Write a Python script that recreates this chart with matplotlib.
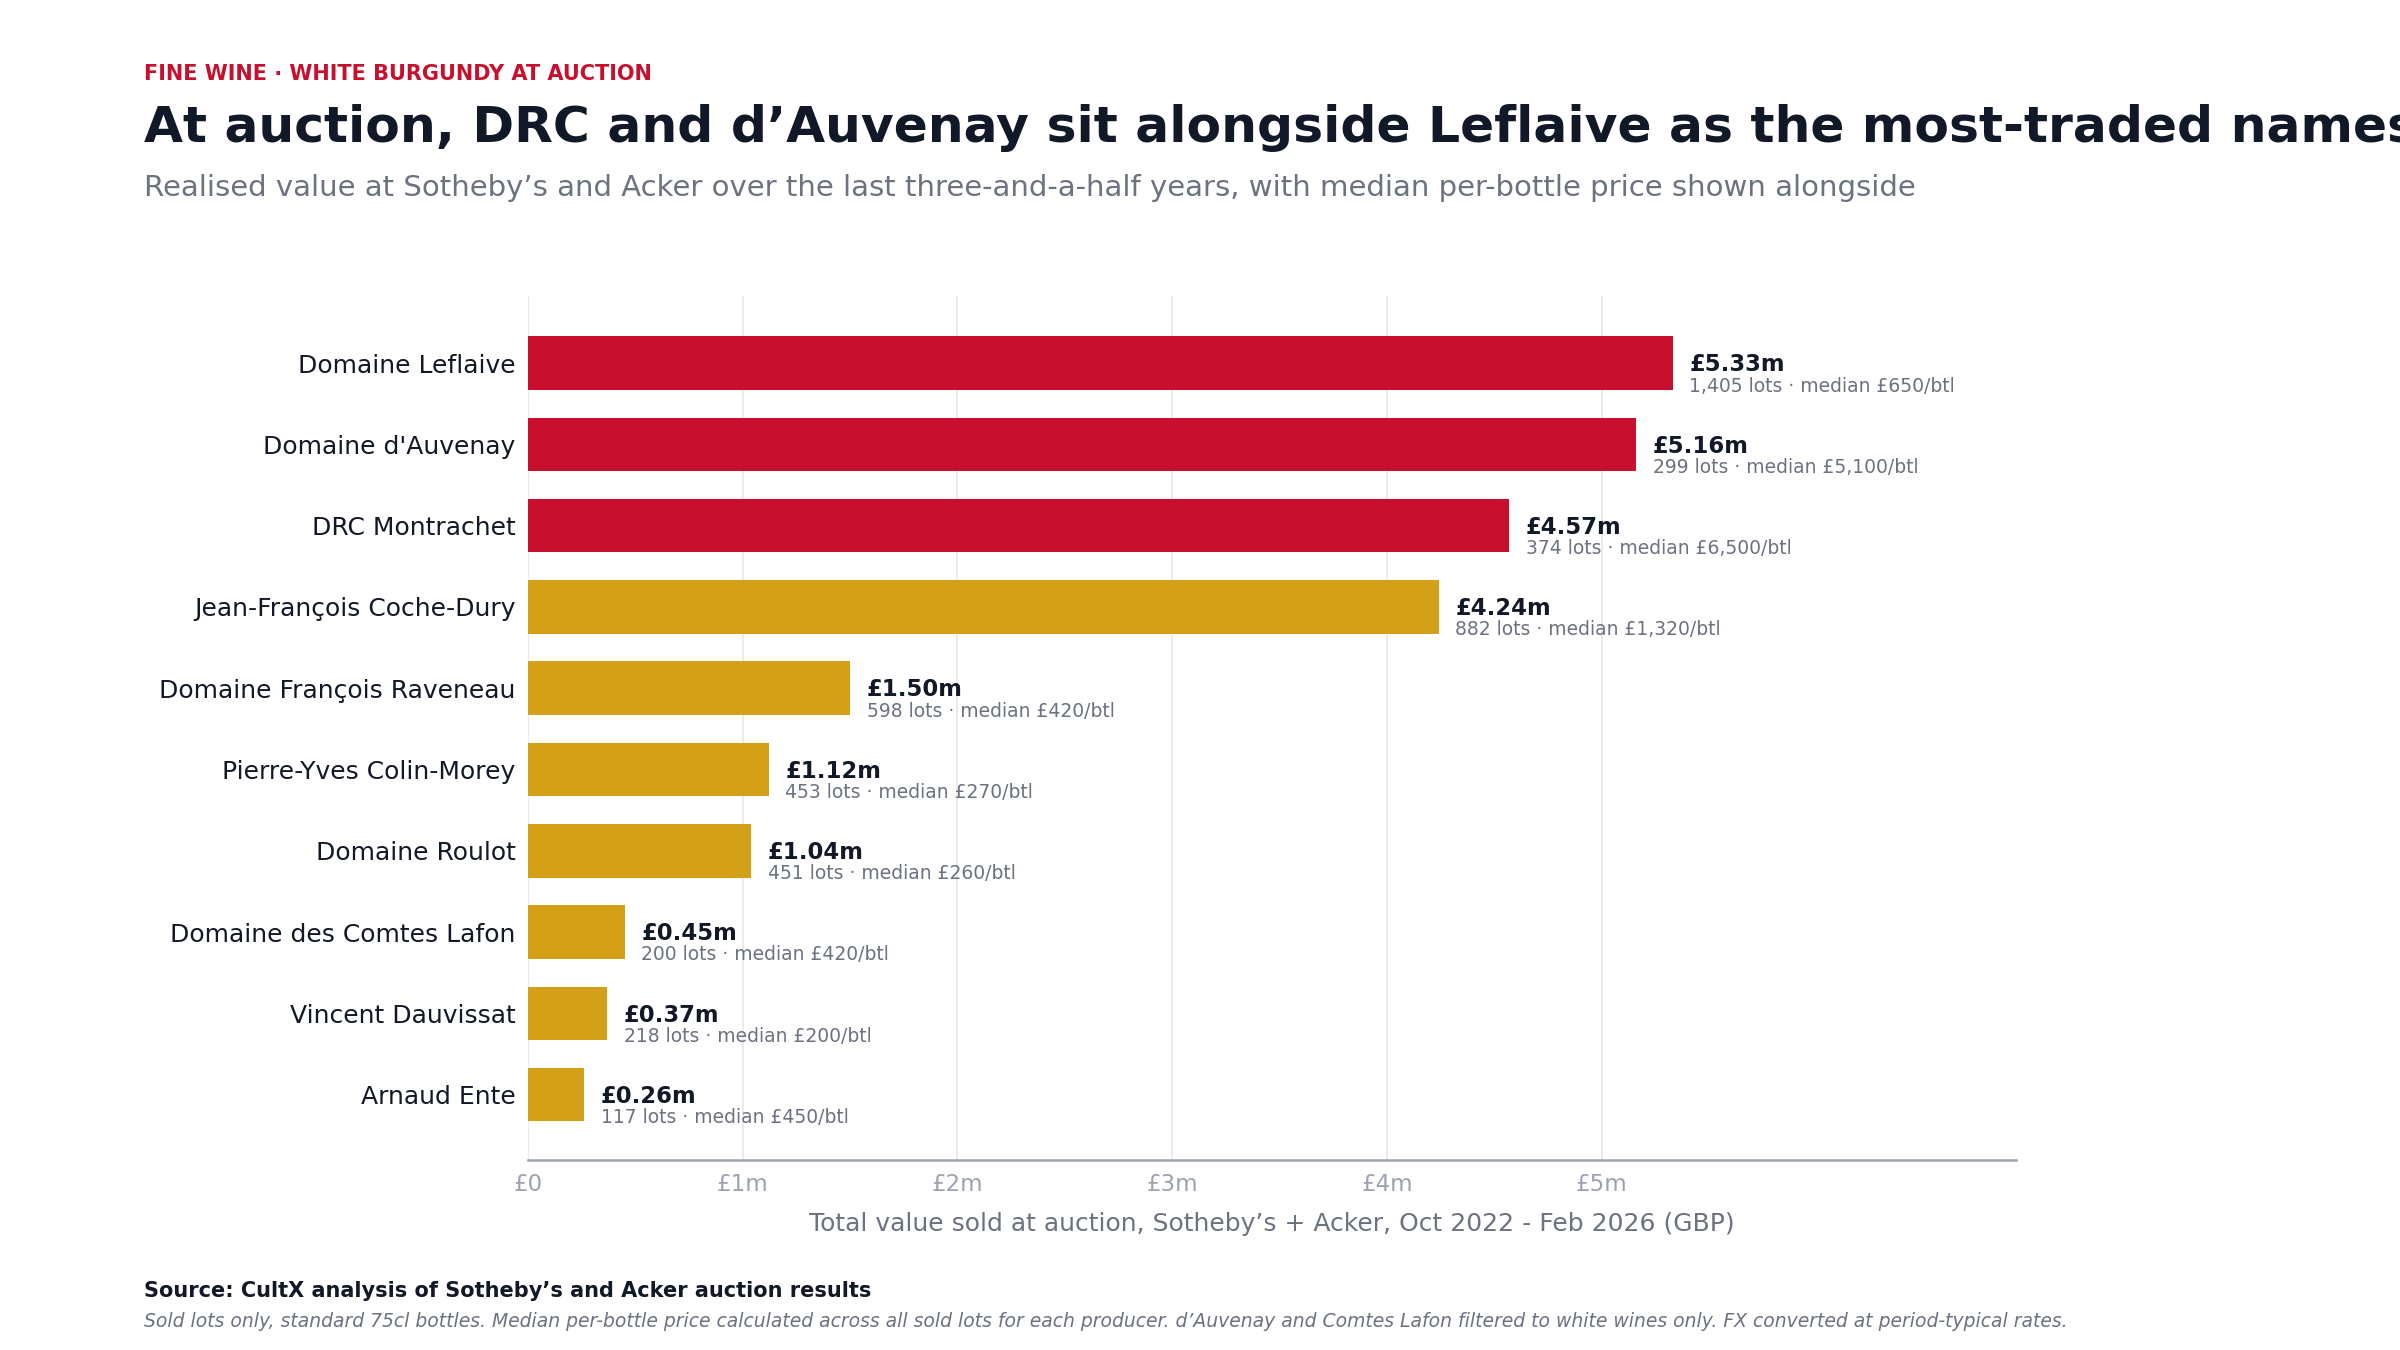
import numpy as np
import matplotlib.pyplot as plt
from matplotlib.ticker import FuncFormatter

plt.rcParams['font.family'] = ['DejaVu Sans']

# data
producers = ["Domaine Leflaive", "Domaine d'Auvenay", "DRC Montrachet",
             "Jean-François Coche-Dury", "Domaine François Raveneau",
             "Pierre-Yves Colin-Morey", "Domaine Roulot",
             "Domaine des Comtes Lafon", "Vincent Dauvissat", "Arnaud Ente"]
value_m = [5.33, 5.16, 4.57, 4.24, 1.50, 1.12, 1.04, 0.45, 0.37, 0.26]
lots = [1405, 299, 374, 882, 598, 453, 451, 200, 218, 117]
median_btl = [650, 5100, 6500, 1320, 420, 270, 260, 420, 200, 450]
highlight = [True, True, True, False, False, False, False, False, False, False]

RED = "#c8102e"
GOLD = "#d4a017"
DARK = "#111827"
GREY = "#6b7280"
LIGHT = "#9ca3af"

fig = plt.figure(figsize=(16, 9), dpi=150)
ax = fig.add_axes([0.22, 0.141, 0.62, 0.64])

y = np.arange(len(producers))
colors = [RED if h else GOLD for h in highlight]
ax.barh(y, value_m, height=0.66, color=colors, zorder=3)

for yi, v, n, med in zip(y, value_m, lots, median_btl):
    ax.annotate(f"£{v:.2f}m", (v, yi), xytext=(8, -0.8), textcoords="offset points",
                ha="left", va="center", fontsize=10.9, fontweight="bold", color=DARK)
    ax.annotate(f"{n:,} lots · median £{med:,}/btl", (v, yi), xytext=(8, -11),
                textcoords="offset points", ha="left", va="center",
                fontsize=9, color=GREY)

ax.set_yticks(y)
ax.set_yticklabels(producers, fontsize=12, color=DARK)
ax.set_ylim(len(producers) - 0.2, -0.83)
ax.set_xlim(0, max(value_m) * 1.3)
ax.set_xticks(range(0, 6))
ax.xaxis.set_major_formatter(FuncFormatter(lambda x, p: "£0" if x == 0 else f"£{x:.0f}m"))
ax.tick_params(axis="x", length=0, pad=6.5, labelsize=11, labelcolor=LIGHT)
ax.tick_params(axis="y", length=0, pad=6)
ax.grid(axis="x", color="#e5e7eb", linewidth=0.8, zorder=0)
for s in ["top", "right", "left"]:
    ax.spines[s].set_visible(False)
ax.spines["bottom"].set_color(LIGHT)
ax.spines["bottom"].set_linewidth(1.2)
ax.set_xlabel("Total value sold at auction, Sotheby’s + Acker, Oct 2022 - Feb 2026 (GBP)",
              fontsize=12, color=GREY, labelpad=7.5)

# header and footer, the title runs past the right edge as in the original
fig.text(0.06, 0.945, "FINE WINE · WHITE BURGUNDY AT AUCTION", fontsize=10,
         fontweight="bold", color=RED, va="center")
fig.text(0.06, 0.905, "At auction, DRC and d’Auvenay sit alongside Leflaive as the most-traded names",
         fontsize=24.2, fontweight="bold", color=DARK, va="center")
fig.text(0.06, 0.861, "Realised value at Sotheby’s and Acker over the last three-and-a-half years, with median per-bottle price shown alongside",
         fontsize=14, color=GREY, va="center")
fig.text(0.06, 0.044, "Source: CultX analysis of Sotheby’s and Acker auction results",
         fontsize=10, fontweight="bold", color=DARK, va="center")
fig.text(0.06, 0.021, "Sold lots only, standard 75cl bottles. Median per-bottle price calculated across all sold lots for each producer. d’Auvenay and Comtes Lafon filtered to white wines only. FX converted at period-typical rates.",
         fontsize=9, style="italic", color=GREY, va="center")

fig.savefig("out.png", dpi=150, facecolor="white")
